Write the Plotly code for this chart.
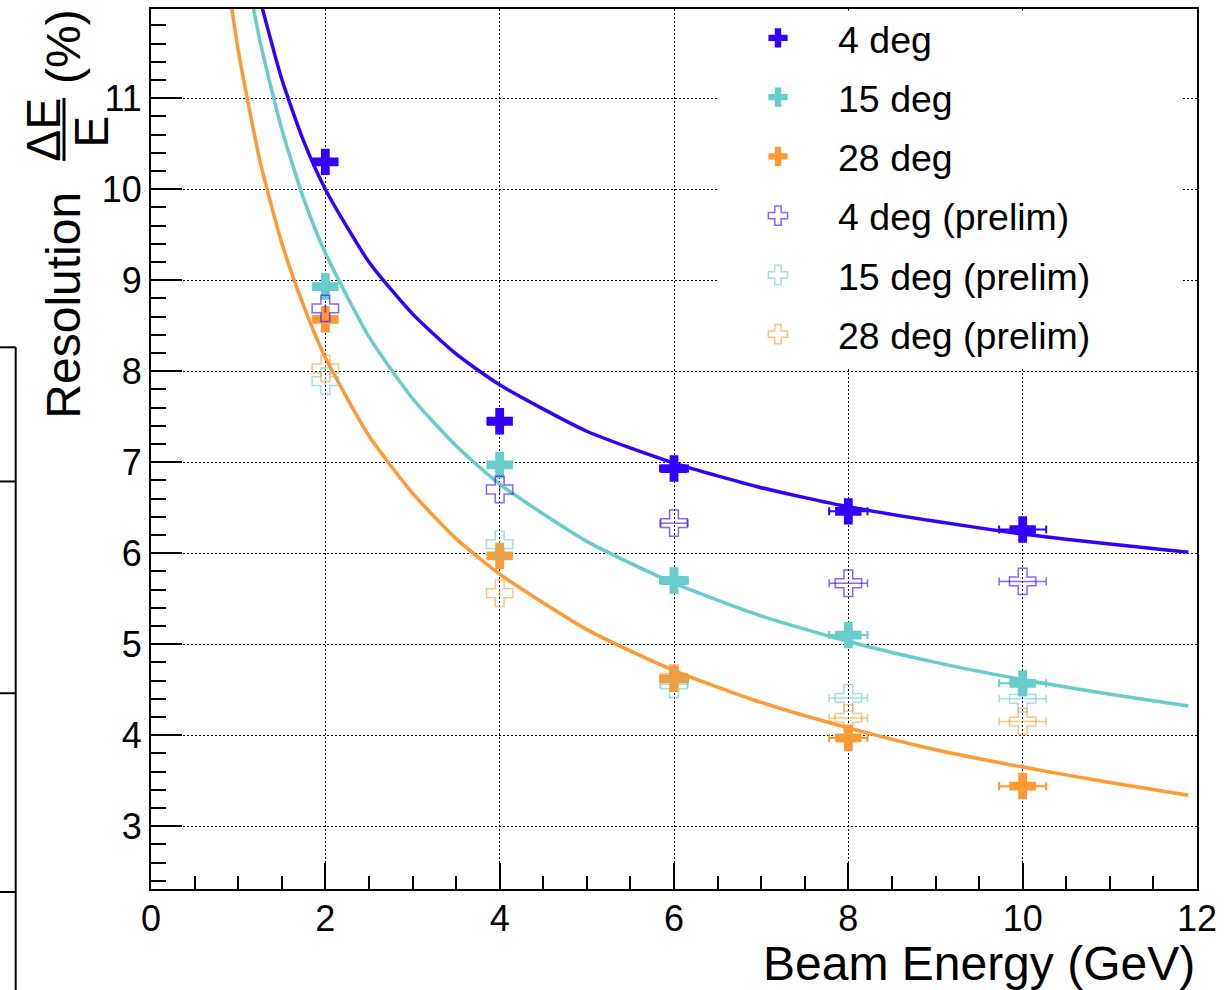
import plotly.graph_objects as go

FONT = "Liberation Sans, Arial, Helvetica, sans-serif"

# Measured resolution points (beam energy in GeV, resolution in %)
energy = [2, 4, 6, 8, 10]
energy_err = [0.0, 0.0, 0.16, 0.22, 0.27]

res_4deg = [10.30, 7.45, 6.93, 6.46, 6.26]
res_15deg = [8.93, 6.97, 5.70, 5.10, 4.57]
res_28deg = [8.57, 5.97, 4.62, 3.97, 3.44]

res_4deg_prelim = [8.69, 6.70, 6.33, 5.67, 5.69]
res_15deg_prelim = [7.89, 6.10, 4.56, 4.41, 4.40]
res_28deg_prelim = [8.03, 5.56, 4.63, 4.19, 4.15]

# Fitted resolution curves, sampled along energy
fit_e_4deg = [1.2, 1.25, 1.5, 1.75, 2, 2.5, 3, 3.5, 4, 5, 6, 7, 8, 9, 10, 11, 11.9]
fit_4deg = [12.30, 12.09, 11.21, 10.53, 10.00, 9.20, 8.63, 8.19, 7.85, 7.34,
            6.99, 6.72, 6.51, 6.35, 6.21, 6.10, 6.01]

fit_e_15deg = [1.1, 1.25, 1.5, 1.75, 2, 2.5, 3, 3.5, 4, 5, 6, 7, 8, 9, 10, 11, 11.9]
fit_15deg = [12.37, 11.63, 10.66, 9.90, 9.30, 8.38, 7.70, 7.18, 6.76, 6.13,
             5.67, 5.31, 5.03, 4.80, 4.61, 4.45, 4.32]

fit_e_28deg = [0.85, 1.0, 1.25, 1.5, 1.75, 2, 2.5, 3, 3.5, 4, 5, 6, 7, 8, 9, 10, 11, 11.9]
fit_28deg = [12.51, 11.53, 10.31, 9.41, 8.72, 8.15, 7.29, 6.66, 6.16, 5.77,
             5.16, 4.71, 4.36, 4.08, 3.84, 3.65, 3.48, 3.34]

labels = ["4 deg", "15 deg", "28 deg",
          "4 deg (prelim)", "15 deg (prelim)", "28 deg (prelim)"]

BLUE = "#3300FF"
TEAL = "#66CCCC"
ORANGE = "#FF9933"
BLUE_L = "rgba(51,0,255,0.6)"
TEAL_L = "rgba(102,204,204,0.6)"
ORANGE_L = "rgba(255,153,51,0.6)"

# page geometry (pixels)
W, H = 1229, 990
ML, MR, MT, MB = 151, 32, 8, 101
PW = W - ML - MR
PH = H - MT - MB


def px(x):
    return (x - ML) / PW


def py(y):
    return (H - MB - y) / PH


fig = go.Figure()

# fit curves
for xs, ys, col in [(fit_e_4deg, fit_4deg, BLUE),
                    (fit_e_15deg, fit_15deg, TEAL),
                    (fit_e_28deg, fit_28deg, ORANGE)]:
    fig.add_trace(go.Scatter(x=xs, y=ys, mode="lines",
                             line=dict(color=col, width=3.5, shape="spline", smoothing=0.6),
                             showlegend=False, hoverinfo="skip"))

# final points (filled crosses)
for ys, col, name in [(res_4deg, BLUE, labels[0]),
                      (res_15deg, TEAL, labels[1]),
                      (res_28deg, ORANGE, labels[2])]:
    fig.add_trace(go.Scatter(
        x=energy, y=ys, mode="markers", name=name, legendgroup=name,
        marker=dict(symbol="cross", size=22, color=col, line=dict(width=0)),
        error_x=dict(type="data", array=energy_err, color=col, thickness=2, width=4),
    ))

# preliminary points (open crosses)
for ys, col, name in [(res_4deg_prelim, BLUE_L, labels[3]),
                      (res_15deg_prelim, TEAL_L, labels[4]),
                      (res_28deg_prelim, ORANGE_L, labels[5])]:
    fig.add_trace(go.Scatter(
        x=energy, y=ys, mode="markers", name=name, legendgroup=name,
        marker=dict(symbol="cross-open", size=22, color=col, line=dict(width=1.5, color=col)),
        error_x=dict(type="data", array=energy_err, color=col, thickness=1.5, width=4),
    ))

shapes = []
# white panel behind the legend (hides the grid there)
shapes.append(dict(type="rect", xref="paper", yref="paper",
                   x0=px(718), x1=px(1183), y0=py(368), y1=py(9.5),
                   fillcolor="white", line=dict(width=0), layer="above"))
# fraction bar of the y title
shapes.append(dict(type="line", xref="paper", yref="paper",
                   x0=px(64), x1=px(64), y0=py(97), y1=py(160),
                   line=dict(color="black", width=3)))
# edge of the neighbouring pad on the left
shapes.append(dict(type="line", xref="paper", yref="paper",
                   x0=px(15.7), x1=px(15.7), y0=py(346.7), y1=py(995),
                   line=dict(color="black", width=2)))
for yy in [346.7, 481, 693, 892]:
    shapes.append(dict(type="line", xref="paper", yref="paper",
                       x0=px(-2), x1=px(15.7), y0=py(yy), y1=py(yy),
                       line=dict(color="black", width=2)))

annotations = [
    dict(text="Beam Energy (GeV)", xref="paper", yref="paper",
         x=px(1197), y=py(964), xanchor="right", yanchor="middle",
         showarrow=False, font=dict(size=48, family=FONT, color="black")),
    dict(text="Resolution", xref="paper", yref="paper", textangle=-90,
         x=px(64), y=py(305), xanchor="center", yanchor="middle",
         showarrow=False, font=dict(size=48, family=FONT, color="black")),
    dict(text="ΔE", xref="paper", yref="paper", textangle=-90,
         x=px(44), y=py(129), xanchor="center", yanchor="middle",
         showarrow=False, font=dict(size=48, family=FONT, color="black")),
    dict(text="E", xref="paper", yref="paper", textangle=-90,
         x=px(92), y=py(131), xanchor="center", yanchor="middle",
         showarrow=False, font=dict(size=48, family=FONT, color="black")),
    dict(text="(%)", xref="paper", yref="paper", textangle=-90,
         x=px(64), y=py(46), xanchor="center", yanchor="middle",
         showarrow=False, font=dict(size=48, family=FONT, color="black")),
]

axis_common = dict(
    showline=True, linecolor="black", linewidth=2, mirror=True,
    showgrid=True, gridcolor="black", gridwidth=1, griddash="1.5px,2.5px",
    zeroline=False, ticks="inside", tickwidth=2, tickcolor="black",
    tickfont=dict(size=36, family=FONT, color="black"),
)

fig.update_layout(
    width=W, height=H,
    margin=dict(l=ML, r=MR, t=MT, b=MB, pad=0),
    paper_bgcolor="white", plot_bgcolor="white",
    font=dict(family=FONT, color="black"),
    xaxis=dict(range=[0, 12], tick0=0, dtick=2, ticklen=26, ticklabelstandoff=-3,
               minor=dict(dtick=0.5, tick0=0, ticklen=13, tickwidth=2, tickcolor="black",
                          ticks="inside", showgrid=False),
               **axis_common),
    yaxis=dict(range=[2.31, 11.98], tick0=0, dtick=1, ticklen=31,
               minor=dict(dtick=0.2, tick0=0, ticklen=15, tickwidth=2, tickcolor="black",
                          ticks="inside", showgrid=False),
               **axis_common),
    legend=dict(x=px(718), xanchor="left", y=py(7), yanchor="top",
                bgcolor="rgba(0,0,0,0)", borderwidth=0,
                font=dict(size=37.5, family=FONT, color="black"),
                itemwidth=110, tracegroupgap=7.5, traceorder="grouped"),
    shapes=shapes,
    annotations=annotations,
)

fig.write_html("out.html")
